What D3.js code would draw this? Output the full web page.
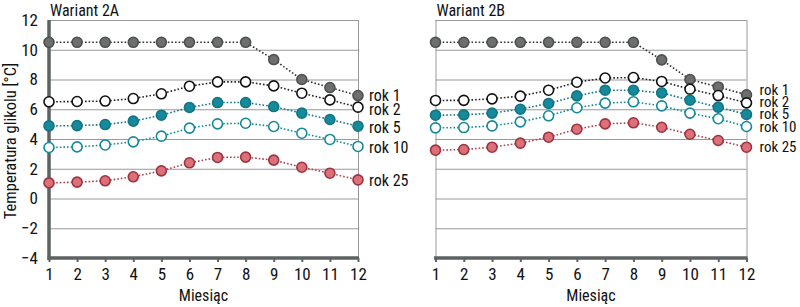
<!DOCTYPE html>
<html lang="pl">
<head>
  <meta charset="UTF-8">
  <script src="https://d3js.org/d3.v7.min.js"></script>
  <title>Temperatura glikolu</title>
  <style>
    body { margin: 0; background: #fff; }
    svg text {
      font-family: "Liberation Sans Narrow", "Arial Narrow", "Roboto Condensed", sans-serif;
      fill: #111;
    }
    .grid line { stroke: #999; stroke-width: 1; }
  </style>
</head>
<body>
<div id="chart"></div>
<script>
  // months on the x axis
  const months = [1, 2, 3, 4, 5, 6, 7, 8, 9, 10, 11, 12];
  const yTicks = [12, 10, 8, 6, 4, 2, 0, -2, -4];
  const seriesNames = ["rok 1", "rok 2", "rok 5", "rok 10", "rok 25"];

  // Wariant 2A
  const a_rok1  = [10.5, 10.5, 10.5, 10.5, 10.5, 10.5, 10.5, 10.5, 9.34, 8.0, 7.46, 6.92];
  const a_rok2  = [6.5, 6.52, 6.55, 6.72, 7.04, 7.55, 7.84, 7.84, 7.57, 7.08, 6.63, 6.14];
  const a_rok5  = [4.88, 4.9, 4.97, 5.2, 5.6, 6.12, 6.45, 6.45, 6.18, 5.74, 5.31, 4.86];
  const a_rok10 = [3.43, 3.47, 3.6, 3.81, 4.19, 4.73, 5.02, 5.06, 4.84, 4.39, 3.97, 3.5];
  const a_rok25 = [1.05, 1.1, 1.19, 1.46, 1.86, 2.4, 2.76, 2.78, 2.58, 2.1, 1.7, 1.25];

  // Wariant 2B
  const b_rok1  = [10.5, 10.5, 10.5, 10.5, 10.5, 10.5, 10.5, 10.5, 9.32, 8.0, 7.5, 6.97];
  const b_rok2  = [6.59, 6.6, 6.7, 6.88, 7.28, 7.82, 8.1, 8.13, 7.87, 7.35, 6.92, 6.43];
  const b_rok5  = [5.6, 5.62, 5.74, 6.0, 6.39, 6.9, 7.28, 7.28, 7.1, 6.61, 6.14, 5.65];
  const b_rok10 = [4.75, 4.77, 4.88, 5.15, 5.56, 6.1, 6.41, 6.5, 6.23, 5.74, 5.36, 4.84];
  const b_rok25 = [3.25, 3.29, 3.45, 3.72, 4.12, 4.66, 5.02, 5.09, 4.79, 4.32, 3.9, 3.45];

  // label positions (value units) next to the last point
  const a_labelAt = [6.95, 6.0, 4.75, 3.42, 1.2];
  const b_labelAt = [7.3, 6.5, 5.72, 4.8, 3.45];

  const styles = [
    { fill: "#6d6e6e", stroke: "#4e5050", line: "#333" },
    { fill: "#ffffff", stroke: "#111111", line: "#222" },
    { fill: "#16899a", stroke: "#127584", line: "#127584" },
    { fill: "#ffffff", stroke: "#16899a", line: "#16899a" },
    { fill: "#dc7079", stroke: "#9c3340", line: "#b0404c" }
  ];

  const width = 800, height = 307;
  const svg = d3.select("#chart").append("svg")
    .attr("width", width).attr("height", height);

  const y = d3.scaleLinear().domain([-4, 12]).range([258, 20]);

  function drawPanel(opts) {
    const x = d3.scaleLinear().domain([1, 12]).range([opts.x0, opts.x1]);
    const g = svg.append("g");

    // grid
    g.append("g").attr("class", "grid")
      .selectAll("line").data(yTicks.filter(d => d > -4)).join("line")
      .attr("x1", opts.x0).attr("x2", opts.x1)
      .attr("y1", d => y(d) + 0.5).attr("y2", d => y(d) + 0.5);

    // right border
    g.append("line")
      .attr("x1", opts.x1 + 0.5).attr("x2", opts.x1 + 0.5)
      .attr("y1", y(12)).attr("y2", y(-4))
      .attr("stroke", "#999");

    // left border / axis
    if (opts.showY) {
      g.append("line")
        .attr("x1", opts.x0).attr("x2", opts.x0)
        .attr("y1", y(12)).attr("y2", y(-4) + 2)
        .attr("stroke", "#5d6262").attr("stroke-width", 3.5);
      const yAxis = d3.axisLeft(y).tickValues(yTicks).tickSize(0).tickPadding(11)
        .tickFormat(d => d < 0 ? "\u2212" + Math.abs(d) : d);
      g.append("g").attr("transform", `translate(${opts.x0},0)`).call(yAxis)
        .call(s => s.select(".domain").remove())
        .selectAll("text").style("font-size", "17px").attr("fill", "#111");
      svg.append("text")
        .attr("transform", `translate(16,${(y(12) + y(-4)) / 2 + 2}) rotate(-90)`)
        .attr("text-anchor", "middle")
        .style("font-size", "16.5px")
        .text("Temperatura glikolu [°C]");
    } else {
      g.append("line")
        .attr("x1", opts.x0 + 0.5).attr("x2", opts.x0 + 0.5)
        .attr("y1", y(12)).attr("y2", y(-4))
        .attr("stroke", "#999");
    }

    // bottom axis
    const xAxis = d3.axisBottom(x).tickValues(months).tickSize(4).tickPadding(6);
    const xa = g.append("g").attr("transform", `translate(0,${y(-4)})`).call(xAxis);
    xa.select(".domain").remove();
    xa.selectAll(".tick line").attr("stroke", "#5d6262").attr("stroke-width", 2);
    xa.selectAll("text").style("font-size", "17px").attr("fill", "#111");
    g.append("line")
      .attr("x1", opts.x0 - 1.5).attr("x2", opts.x1 + 1)
      .attr("y1", y(-4)).attr("y2", y(-4))
      .attr("stroke", "#5d6262").attr("stroke-width", 3.5);

    g.append("text")
      .attr("x", (opts.x0 + opts.x1) / 2).attr("y", 301)
      .attr("text-anchor", "middle")
      .style("font-size", "16px")
      .text("Miesiąc");

    g.append("text")
      .attr("x", opts.x0 + 1).attr("y", 16)
      .style("font-size", "16px")
      .text(opts.title);

    const line = d3.line().x((d, i) => x(months[i])).y(d => y(d));

    opts.series.forEach((vals, k) => {
      const st = styles[k];
      g.append("path")
        .attr("d", line(vals))
        .attr("fill", "none")
        .attr("stroke", st.line)
        .attr("stroke-width", 1.6)
        .attr("stroke-dasharray", "1.6,2");
    });

    opts.series.forEach((vals, k) => {
      const st = styles[k];
      g.append("g").selectAll("circle").data(vals).join("circle")
        .attr("cx", (d, i) => x(months[i]))
        .attr("cy", d => y(d))
        .attr("r", 5)
        .attr("fill", st.fill)
        .attr("stroke", st.stroke)
        .attr("stroke-width", 1.6);
    });

    g.append("g").selectAll("text").data(seriesNames).join("text")
      .attr("x", opts.x1 + opts.labelDx)
      .attr("y", (d, i) => y(opts.labelAt[i]))
      .attr("dy", "0.35em")
      .style("font-size", opts.labelSize)
      .text(d => d);
  }

  drawPanel({
    x0: 49, x1: 358, showY: true, title: "Wariant 2A", labelDx: 11, labelSize: "16px",
    series: [a_rok1, a_rok2, a_rok5, a_rok10, a_rok25], labelAt: a_labelAt
  });

  drawPanel({
    x0: 435.5, x1: 746.5, showY: false, title: "Wariant 2B", labelDx: 13, labelSize: "15px",
    series: [b_rok1, b_rok2, b_rok5, b_rok10, b_rok25], labelAt: b_labelAt
  });
</script>
</body>
</html>
